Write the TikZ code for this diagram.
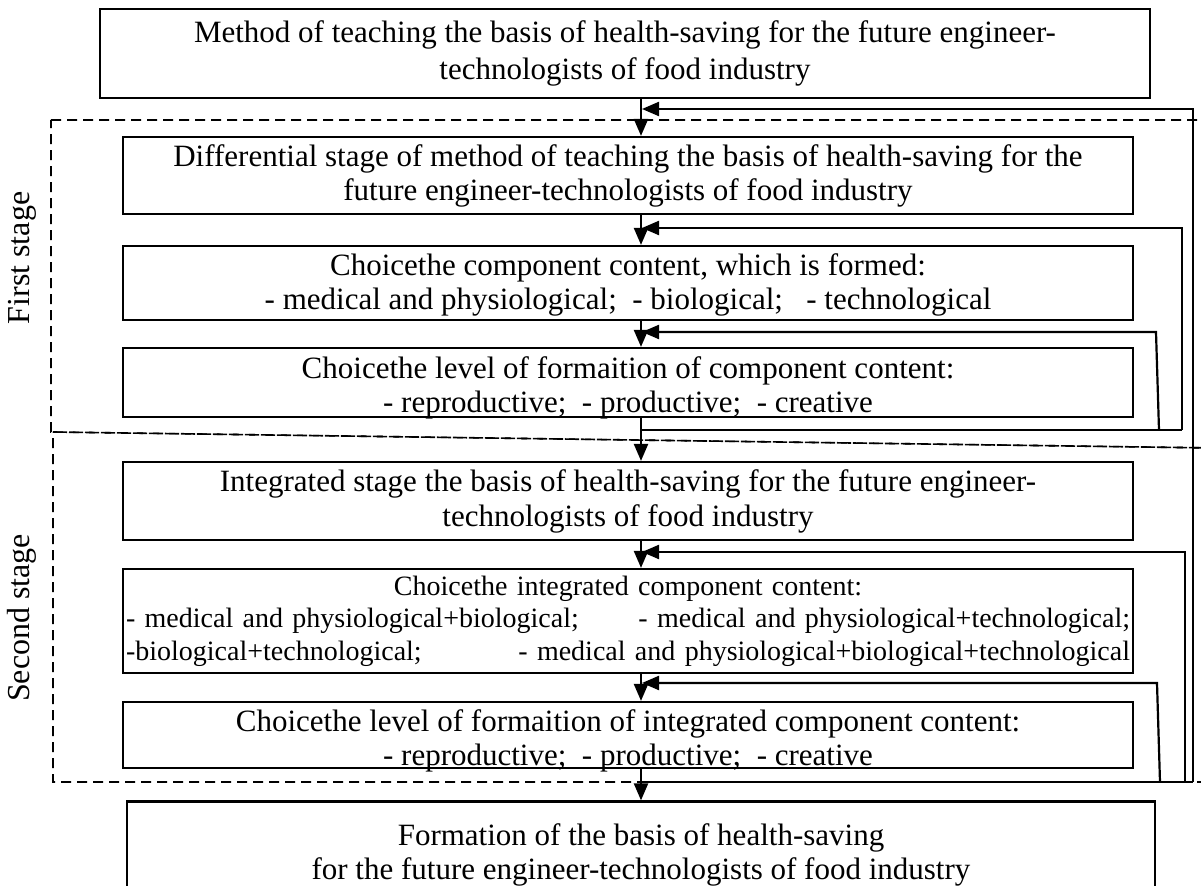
\documentclass[tikz,border=0pt]{standalone}
\usepackage{fontspec}
\setmainfont{Liberation Serif}
\usetikzlibrary{arrows.meta}

\begin{document}
\begin{tikzpicture}[x=0.5pt,y=-0.5pt,>={Triangle[length=8.5pt,width=7pt]},
  blk/.style={draw, line width=1.1pt, align=center, inner sep=1pt,
    font=\fontsize{15.5}{17}\selectfont},
  low/.style={text depth=0pt, inner ysep=#1},
  fb/.style={line width=1.1pt},
  stg/.style={line width=0.8pt, dash pattern=on 5pt off 3pt}]
  \useasboundingbox (0,0) rectangle (1201,886);

  % 段階の枠 (破線)
  \draw[stg] (51,120) -- (1215,120) -- (1215,448) -- (51,432) -- cycle;
  \draw[stg] (53,432) -- (1215,448) -- (1215,782) -- (53,782) -- cycle;
  \node[rotate=90, font=\fontsize{16}{17}\selectfont] (st1) at (22,258) {First stage};
  \node[rotate=90, font=\fontsize{16}{17}\selectfont] (st2) at (22,618) {Second stage};

  % 四角
  \node[blk, minimum width=525pt, minimum height=44.5pt,
    font=\fontsize{15.5}{18.5}\selectfont] (top) at (625,53.5)
    {Method of teaching the basis of health-saving for the future engineer-\\technologists of food industry};
  \node[blk, minimum width=505pt, minimum height=38.5pt] (dif) at (628,175.5)
    {Differential stage of method of teaching the basis of health-saving for the\\future engineer-technologists of food industry};
  \node[blk, minimum width=505pt, minimum height=37pt] (cmp) at (628,283)
    {\rule{0pt}{13pt}Choicethe component content, which is formed:\\- medical and physiological;\ \ - biological;\ \ \ - technological};
  \node[blk, low=2pt, minimum width=505pt] (lvl) at (628,382.5)
    {\rule{0pt}{13.5pt}Choicethe level of formaition of component content:\\- reproductive;\ \ - productive;\ \ - creative};
  \node[blk, minimum width=505pt, minimum height=39pt, font=\fontsize{15.5}{17.5}\selectfont] (itg) at (628,501)
    {Integrated stage the basis of health-saving for the future engineer-\\technologists of food industry};
  \node[blk, text width=502pt, inner xsep=1.5pt, minimum height=52pt,
    font=\fontsize{14}{16.2}\selectfont] (icm) at (628,621)
    {Choicethe integrated component content:\\
     \makebox[\linewidth]{- medical and physiological+biological;\hfill- medical and physiological+technological;}\\
     \makebox[\linewidth]{-biological+technological;\hfill- medical and physiological+biological+technological}};
  \node[blk, low=1pt, minimum width=505pt] (ilv) at (628,735)
    {\rule{0pt}{14pt}Choicethe level of formaition of integrated component content:\\- reproductive;\ \ - productive;\ \ - creative};
  \node[blk, minimum width=514pt, minimum height=53.5pt] (fin) at (641,855)
    {Formation of the basis of health-saving\\for the future engineer-technologists of food industry};

  % 矢印 (縦)
  \coordinate (ax) at (641,0);
  \foreach \a/\b in {top/dif, dif/cmp, cmp/lvl, lvl/itg, itg/icm, icm/ilv, ilv/fin} {
    \draw[fb,->] (\a.south -| ax) -- (\b.north -| ax);
  }

  % 戻り (第一段階)
  \coordinate (p1) at (641,430);
  \coordinate (q1) at (1182,430);
  \coordinate (q2) at (1159,430);
  \coordinate (q2t) at (1156,332);
  \coordinate (t2) at (642,228);
  \coordinate (t3) at (642,332);
  \draw[fb] (p1) -- (q1);
  \draw[fb,->] (q1) |- (t2);
  \draw[fb,->] (q2) -- (q2t) -- (t3);

  % 戻り (第二段階)
  \coordinate (p2) at (641,782);
  \coordinate (r1) at (1193,782);
  \coordinate (r2) at (1185,782);
  \coordinate (r3) at (1160,782);
  \coordinate (r3t) at (1157,683);
  \coordinate (t1) at (642,109);
  \coordinate (t5) at (642,552);
  \coordinate (t6) at (642,683);
  \draw[fb] (p2) -- (r1);
  \draw[fb,->] (r1) |- (t1);
  \draw[fb,->] (r2) |- (t5);
  \draw[fb,->] (r3) -- (r3t) -- (t6);

\end{tikzpicture}
\end{document}
